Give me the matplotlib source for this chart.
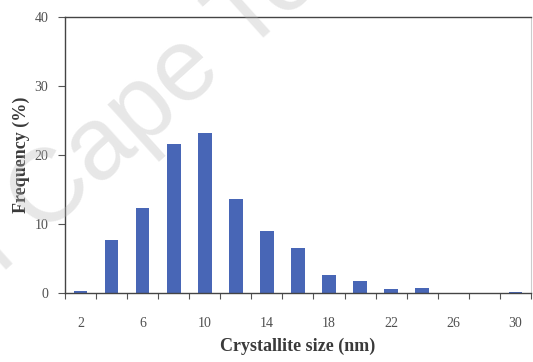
import matplotlib
matplotlib.use("Agg")
import matplotlib.pyplot as plt
import numpy as np

# crystallite size histogram (bin centres in nm, frequency in %)
sizes = [2, 4, 6, 8, 10, 12, 14, 16, 18, 20, 22, 24, 26, 28, 30]
freq = [0.3, 7.7, 12.4, 21.6, 23.2, 13.6, 9.0, 6.6, 2.7, 1.8, 0.6, 0.7, 0.0, 0.0, 0.2]
tick_sizes = [2, 6, 10, 14, 18, 22, 26, 30]
y_ticks = [0, 10, 20, 30, 40]

serif = ["Liberation Serif", "DejaVu Serif"]
bar_color = "#4866b6"
text_color = "#3a3a3a"
tick_color = "#505050"

fig = plt.figure(figsize=(5.33, 3.62), dpi=100)
ax = fig.add_axes([0.122, 0.19, 0.874, 0.763])

x = np.arange(len(sizes))
ax.bar(x, freq, width=0.44, color=bar_color, zorder=2)

ax.set_xlim(-0.5, len(sizes) - 0.5)
ax.set_ylim(0, 40)

# labels every other bin, tick marks on the bin boundaries
ax.set_xticks([sizes.index(s) for s in tick_sizes])
ax.set_xticklabels([str(s) for s in tick_sizes], fontfamily=serif, fontsize=10, color=tick_color)
ax.set_xticks(np.arange(-0.5, len(sizes)), minor=True)
ax.tick_params(axis="x", which="major", length=0, pad=17)
ax.tick_params(axis="x", which="minor", length=4, width=0.8, color="#555555", direction="out")

ax.set_yticks(y_ticks)
ax.set_yticklabels([str(v) for v in y_ticks], fontfamily=serif, fontsize=10, color=tick_color)
ax.tick_params(axis="y", length=5, width=0.8, color="#555555", direction="out", pad=7)

for side in ("left", "bottom", "top"):
    ax.spines[side].set_color("#444444")
    ax.spines[side].set_linewidth(1.0)
ax.spines["right"].set_color("#cccccc")
ax.spines["right"].set_linewidth(0.8)

ax.set_xlabel("Crystallite size (nm)", fontfamily=serif, fontsize=13, fontweight="bold",
              color=text_color, labelpad=6)
ax.set_ylabel("Frequency (%)", fontfamily=serif, fontsize=13, fontweight="bold",
              color=text_color, labelpad=3)

# repository watermark drawn across the figure
wm = dict(fontsize=74, color="#b8b8b8", alpha=0.33, rotation=42, rotation_mode="anchor",
          family=["Liberation Sans", "DejaVu Sans"], va="baseline", zorder=10)
fig.text(0.079, 0.343, "University of ", ha="right", transform=fig.transFigure, **wm)
fig.text(0.079, 0.343, "Cape Town", ha="left", transform=fig.transFigure, **wm)

fig.savefig("out.png", dpi=100)
